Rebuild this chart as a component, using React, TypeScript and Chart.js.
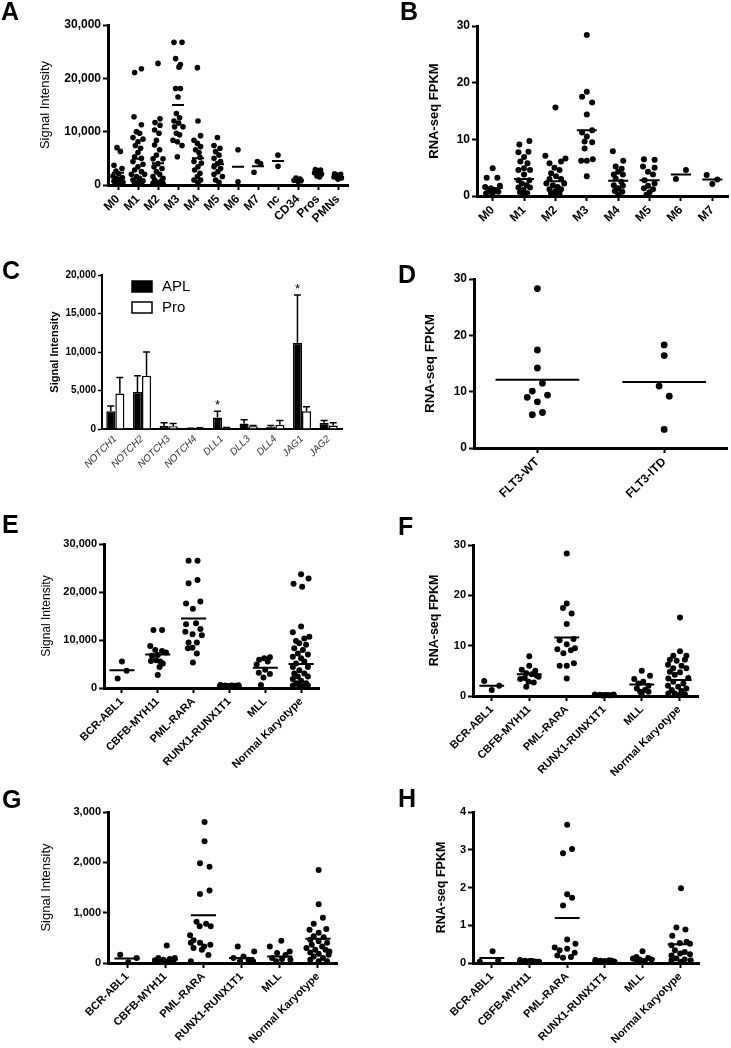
import React, { useEffect, useRef } from 'react';
import { Chart, registerables } from 'chart.js';
Chart.register(...registerables);

const FONT = '"Liberation Sans", Arial, Helvetica, sans-serif';

type Pt = [number, number]; // [value, horizontal jitter in category units]

// ---------- categories ----------
const fabCats = ['M0', 'M1', 'M2', 'M3', 'M4', 'M5', 'M6', 'M7', 'nc', 'CD34', 'Pros', 'PMNs'];
const fabCatsRna = ['M0', 'M1', 'M2', 'M3', 'M4', 'M5', 'M6', 'M7'];
const notchGenes = ['NOTCH1', 'NOTCH2', 'NOTCH3', 'NOTCH4', 'DLL1', 'DLL3', 'DLL4', 'JAG1', 'JAG2'];
const flt3Cats = ['FLT3-WT', 'FLT3-ITD'];
const karyoCats = ['BCR-ABL1', 'CBFB-MYH11', 'PML-RARA', 'RUNX1-RUNX1T1', 'MLL', 'Normal Karyotype'];

// ---------- tick labels ----------
const ticksSignal30k = [0, 10000, 20000, 30000];
const ticksFpkm30 = [0, 10, 20, 30];
const ticksSignal20k = [0, 5000, 10000, 15000, 20000];
const ticksSignal3k = [0, 1000, 2000, 3000];
const ticksFpkm4 = [0, 1, 2, 3, 4];

// ---------- Panel A: signal intensity by FAB ----------
const aM0: Pt[] = [[7000,-0.05],[6300,0.12],[3700,-0.2],[3100,0.2],[2600,-0.1],[2100,0.03],[1700,-0.25],[1400,0.22],[1200,-0.08],[1000,0.1],[700,-0.2],[500,0.25],[300,0],[200,-0.12]];
const aM1: Pt[] = [[21100,-0.17],[21800,0.17],[12800,-0.2],[11300,0.17],[10000,-0.08],[9700,0.08],[8900,-0.25],[8600,0.25],[8100,0],[7400,-0.13],[6900,0.13],[6100,0],[5300,-0.17],[5000,0.17],[4400,-0.25],[3900,0.25],[3400,0],[2800,-0.17],[2500,0.17],[2000,-0.33],[2000,0.33],[1600,-0.08],[1250,0.08],[940,-0.25],[800,0.25],[600,0],[300,-0.17],[300,0.17],[150,-0.05]];
const aM2: Pt[] = [[22800,0],[12400,0.1],[11700,-0.15],[11200,0.1],[10300,-0.17],[9700,0.05],[8400,-0.08],[7500,-0.17],[6600,0.08],[5600,-0.08],[4900,-0.25],[4900,0.25],[4000,0],[3400,-0.2],[3100,0.2],[2500,-0.08],[2000,0.08],[1600,-0.25],[1250,0.25],[940,-0.17],[750,0.17],[440,0],[300,-0.25],[300,0.25]];
const aM3: Pt[] = [[26750,-0.2],[26750,0.2],[23700,-0.12],[22600,0.12],[22100,0.05],[18100,-0.12],[18100,0.12],[16500,0],[13400,-0.08],[12600,0.08],[12000,-0.2],[11600,0.03],[10900,-0.17],[10900,0.25],[9700,-0.08],[9400,0.08],[8400,-0.25],[8100,-0.03],[7400,0.2],[5300,-0.03]];
const aM4: Pt[] = [[22000,-0.03],[12000,0],[9250,0.13],[8400,-0.2],[7800,-0.03],[7200,0.13],[6600,-0.12],[6100,0.05],[5200,0.1],[4400,-0.2],[4100,0.17],[3400,0],[2800,-0.17],[2200,0.1],[1600,-0.03],[940,-0.2],[940,0.13],[440,0]];
const aM5: Pt[] = [[8900,-0.03],[7400,-0.2],[6900,0.1],[6250,-0.12],[5600,0.05],[5000,-0.2],[4400,0.13],[4000,-0.03],[3400,-0.2],[3100,0.13],[2500,0],[2000,-0.2],[1600,0.22],[940,-0.12],[500,0.05]];
const aM6: Pt[] = [[6600,0],[600,0]];
const aM7: Pt[] = [[2400,-0.2],[4400,-0.03],[4000,0.13]];
const aNc: Pt[] = [[5600,0],[3500,0]];
const aCD34: Pt[] = [[1300,-0.1],[1100,0.1],[900,-0.2],[800,0.15],[700,0]];
const aPros: Pt[] = [[2900,-0.13],[2800,0.13],[2600,0],[2300,-0.17],[2000,0.17],[1700,-0.05],[1500,0.08]];
const aPMNs: Pt[] = [[2100,-0.17],[2000,0.13],[1800,0],[1500,-0.2],[1300,0.17],[1100,0]];
const aMeans = [2300, 4900, 4100, 15000, 5000, 3900, 3400, 3500, 4500, 900, 2200, 1500];

// ---------- Panel B: RNA-seq FPKM by FAB ----------
const bM0: Pt[] = [[4.9,0],[3.2,-0.19],[3.2,0.15],[1.6,-0.24],[1.8,0.23],[1.35,-0.06],[1.05,0.07],[0.75,-0.14],[0.5,0],[0.75,0.18],[0.45,-0.21]];
const bM1: Pt[] = [[9.1,-0.15],[9.7,0.17],[7.7,-0.18],[7.8,0.14],[6.9,0],[6.1,-0.12],[5.8,0.11],[4.9,0],[4.6,-0.18],[4.6,0.19],[3.8,0],[2.8,-0.18],[2.8,0.17],[2.2,-0.07],[1.9,0.08],[1.5,-0.18],[1.5,0.19],[1.05,-0.02],[0.65,-0.13],[0.5,0.1],[0.3,0]];
const bM2: Pt[] = [[15.6,0],[7.1,-0.32],[6.6,0.32],[5.8,-0.19],[6.1,0.18],[5.0,-0.03],[4.6,0.13],[4.0,-0.14],[3.5,0.02],[3.0,-0.19],[3.0,0.18],[2.2,-0.29],[2.2,0.28],[1.9,-0.08],[1.6,0.07],[1.2,-0.19],[1.2,0.18],[0.9,0],[0.5,-0.14],[0.5,0.13],[0.2,0]];
const bM3: Pt[] = [[28.4,0],[18.4,0],[17.5,-0.15],[16.5,0.17],[14.4,0],[11.6,0.17],[11.2,-0.15],[10.5,0],[9.6,-0.07],[9.5,0.17],[8.4,-0.07],[6.2,-0.18],[6.2,0],[6.5,0.19],[3.5,0]];
const bM4: Pt[] = [[7.9,-0.17],[6.2,0.16],[5.2,-0.08],[4.8,0.11],[4.3,0],[3.8,-0.14],[3.8,0.15],[3.1,-0.08],[2.5,0.1],[1.9,-0.14],[1.8,0.15],[1.35,0],[0.9,-0.11],[0.75,0.13],[0.3,0]];
const bM5: Pt[] = [[6.5,-0.18],[6.4,0.16],[5.2,-0.21],[5.0,0.16],[4.3,-0.05],[3.8,0.11],[2.8,-0.16],[2.2,0.16],[1.8,-0.05],[1.35,-0.18],[1.2,0.11],[0.65,0],[0.2,-0.1]];
const bM6: Pt[] = [[4.6,0.16],[3.0,-0.16]];
const bM7: Pt[] = [[3.7,-0.18],[2.9,0.16],[2.1,0]];
const bMeans = [1.4, 3.0, 2.6, 11.6, 2.7, 2.8, 3.8, 2.9];

// ---------- Panel C: Notch pathway, APL vs promyelocytes ----------
const aplMean = [2300, 4800, 400, 50, 1500, 700, 300, 11200, 800];
const aplErrTop = [3000, 6900, 800, 90, 2300, 1200, 450, 17400, 1100];
const proMean = [4600, 6900, 350, 100, 150, 350, 550, 2300, 450];
const proErrTop = [6700, 10000, 700, 150, 200, 450, 1100, 2900, 800];
const starGenes = ['DLL1', 'JAG1'];

// ---------- Panel D: FLT3 status ----------
const dWT: Pt[] = [[28.3,0],[17.4,0],[14.2,0],[11.5,0.04],[10.1,-0.04],[9.0,-0.08],[9.4,0.08],[8.2,0],[6.3,0.04],[5.9,-0.04]];
const dITD: Pt[] = [[18.3,0],[16.4,0],[11.0,-0.04],[9.2,0.04],[3.3,0]];
const dMeans = [12.1, 11.7];

// ---------- Panel E: signal intensity by karyotype ----------
const eBCR: Pt[] = [[5500,0],[3600,0.13],[2000,-0.12]];
const eCBFB: Pt[] = [[12100,-0.12],[12100,0.12],[8750,-0.21],[7900,-0.07],[7700,0.12],[7400,0.23],[6700,-0.16],[6900,0],[5800,-0.05],[5500,0.07],[5100,0.14],[5600,-0.19],[4400,0.05],[2700,0]];
const ePML: Pt[] = [[26500,-0.14],[26500,0.11],[21800,-0.14],[22500,0.11],[17600,-0.21],[18000,0.19],[16500,-0.02],[13300,-0.21],[13500,0.07],[12300,0.19],[11700,-0.23],[11200,-0.03],[11000,0.23],[9500,-0.14],[9500,0.09],[8300,-0.16],[8400,-0.03],[7200,0.09],[5300,-0.02]];
const eRUNX1: Pt[] = [[600,-0.25],[500,-0.12],[400,0],[450,0.12],[550,0.25],[350,-0.06],[500,0.06],[400,0.18]];
const eMLL: Pt[] = [[6400,0.13],[6200,-0.03],[5900,-0.17],[5500,0.07],[4900,-0.24],[3800,0],[3200,-0.18],[2900,0.13],[2200,-0.05],[600,-0.12]];
const eNormal: Pt[] = [[23700,0],[22800,0.21],[21700,-0.21],[21100,0.03],[12800,0],[11600,-0.23],[10700,0.23],[10300,0.09],[9800,-0.14],[9300,-0.05],[9000,0.14],[8300,-0.19],[7900,0.05],[7200,-0.09],[7000,0.19],[6500,-0.23],[6200,0],[5500,0.09],[5100,-0.14],[4400,-0.23],[4400,0.19],[3700,-0.05],[3000,-0.19],[3000,0.09],[2400,-0.09],[2400,0.19],[1900,-0.23],[1500,0],[1000,-0.14],[1000,0.14],[500,-0.05],[500,-0.23],[500,0.19],[300,0.05]];
const eMeans = [3700, 7000, 14500, 450, 4200, 5000];

// ---------- Panel F: RNA-seq FPKM by karyotype ----------
const fBCR: Pt[] = [[3.0,-0.2],[2.05,0.2],[1.2,0]];
const fCBFB: Pt[] = [[7.9,0],[6.0,0],[5.2,-0.2],[5.0,0.16],[4.5,-0.08],[4.3,0.07],[3.4,-0.24],[3.8,0.25],[2.85,-0.02],[2.7,0.12],[1.85,-0.08],[4.0,0.2],[3.6,-0.12]];
const fPML: Pt[] = [[28.3,0],[18.4,0],[17.5,-0.1],[16.4,0.13],[14.3,0],[11.1,-0.19],[11.3,0.18],[10.3,0],[9.3,-0.25],[9.5,0.22],[8.5,-0.09],[9.1,0.11],[6.0,-0.19],[6.0,0],[6.5,0.19],[3.5,0]];
const fRUNX1: Pt[] = [[0.3,-0.25],[0.25,-0.12],[0.2,0],[0.15,0.12],[0.3,0.25],[0.1,-0.06],[0.2,0.06],[0.15,0.18]];
const fMLL: Pt[] = [[5.0,0],[4.0,0.22],[3.4,-0.2],[2.85,0.04],[2.5,-0.09],[2.05,0.18],[1.5,-0.13],[1.2,0.09],[0.85,-0.04],[0.85,0.18],[0.3,0]];
const fNormal: Pt[] = [[15.6,0.02],[8.9,0.02],[8.0,-0.16],[8.0,0.19],[7.2,-0.25],[7.0,-0.07],[7.2,0.15],[6.2,-0.3],[6.0,0.06],[5.5,-0.16],[5.5,0.19],[4.8,-0.25],[4.7,0.02],[4.2,-0.12],[3.5,-0.29],[3.6,0.24],[2.85,-0.16],[2.5,0.11],[2.05,-0.3],[1.85,-0.03],[1.5,0.19],[1.2,-0.2],[1.0,0.06],[0.5,-0.12],[0.33,0.15],[0.5,-0.29],[0.2,0]];
const fMeans = [2.05, 4.3, 11.6, 0.2, 2.3, 3.2];

// ---------- Panel G: signal intensity (second probe) by karyotype ----------
const gBCR: Pt[] = [[165,-0.18],[100,0.25],[13,0.03]];
const gCBFB: Pt[] = [[350,0.04],[100,-0.18],[66,-0.05],[80,0.12],[33,0.21],[33,-0.14],[13,0.04],[53,-0.27],[100,0.25]];
const gPML: Pt[] = [[2800,0.03],[2420,0.03],[1980,-0.09],[1910,0.16],[1440,0.16],[1370,-0.09],[820,-0.18],[780,0.07],[730,0.19],[730,-0.1],[550,-0.35],[450,-0.26],[400,-0.09],[400,-0.33],[365,0.18],[330,0.02],[300,-0.26],[265,-0.04],[160,0.13],[33,-0.33]];
const gRUNX1: Pt[] = [[330,-0.1],[230,0.33],[130,0.05],[100,-0.21],[66,0.18],[33,-0.04],[33,0.3]];
const gMLL: Pt[] = [[330,-0.26],[440,0.04],[230,0.26],[200,-0.07],[160,0.15],[100,-0.2],[80,0.06],[66,0.28],[33,-0.09]];
const gNormal: Pt[] = [[1850,0.02],[1165,0.02],[900,0.13],[780,-0.11],[675,0.22],[660,-0.22],[600,0.02],[530,-0.11],[510,0.15],[460,-0.2],[430,0.02],[400,0.24],[365,-0.16],[330,0.11],[300,-0.3],[265,-0.07],[265,0.2],[230,0.3],[210,-0.2],[185,0.02],[165,0.28],[130,-0.11],[100,0.13],[66,-0.2],[33,0.02],[33,0.24]];
const gMeans = [90, 70, 950, 100, 130, 480];

// ---------- Panel H: RNA-seq FPKM (second) by karyotype ----------
const hBCR: Pt[] = [[0.31,0.02],[0.03,-0.32],[0.07,0.17]];
const hCBFB: Pt[] = [[0.08,-0.25],[0.06,-0.12],[0.05,0],[0.04,0.12],[0.03,0.25],[0.02,-0.06],[0.05,0.06],[0.03,0.18]];
const hPML: Pt[] = [[3.66,0],[3.02,0.13],[2.91,-0.11],[1.82,0],[1.73,0.13],[1.52,-0.11],[0.62,0],[0.51,0.22],[0.41,-0.33],[0.34,-0.2],[0.38,0],[0.27,0.2],[0.2,-0.26],[0.14,-0.11],[0.16,0.1]];
const hRUNX1: Pt[] = [[0.08,-0.25],[0.06,-0.12],[0.05,0],[0.07,0.12],[0.04,0.25],[0.03,-0.06],[0.06,0.18]];
const hMLL: Pt[] = [[0.31,0],[0.16,-0.16],[0.13,0.15],[0.12,-0.25],[0.09,-0.07],[0.09,0.24],[0.05,0.06],[0.03,-0.16]];
const hNormal: Pt[] = [[1.98,0.02],[0.94,-0.1],[0.89,0.14],[0.72,-0.21],[0.47,-0.23],[0.53,-0.01],[0.56,0.17],[0.51,0.26],[0.34,-0.14],[0.29,0.12],[0.2,-0.23],[0.25,0],[0.23,0.26],[0.12,-0.1],[0.09,0.12],[0.07,-0.23],[0.07,0.28],[0.03,0.02]];
const hMeans = [0.13, 0.04, 1.19, 0.05, 0.1, 0.5];

// ---------- layout helpers ----------
interface ScatterSpec {
  key: string;
  x: number; y: number; w: number; h: number;
  area: [number, number, number, number]; // left, top, right, bottom (canvas px)
  cats: string[];
  groups: Pt[][];
  means: number[];
  yTicks: number[];
  yTitle: string;
  titleBold: boolean;
  titleSize: number;
  titleCX: number;
  tickSize: number;
  xLabelSize: number;
  r: number;
  half: number;
}

const fmt = (v: number) => Number(v).toLocaleString('en-US');

const axisCommon = {
  grid: { display: true, drawOnChartArea: false, drawTicks: true, tickLength: 5, tickWidth: 2, tickColor: '#000' },
  border: { display: true, color: '#000', width: 3 },
};

function scatterConfig(s: ScatterSpec): any {
  const [l, t, r, b] = s.area;
  const n = s.cats.length;
  const pts = s.groups.flatMap((g, i) => g.map(([v, o]) => ({ x: i + o, y: v })));
  const lines: any[] = s.means.flatMap((m, i) => [
    { x: i - s.half, y: m },
    { x: i + s.half, y: m },
    { x: i + 0.5, y: null },
  ]);
  const lh = 1.2;
  return {
    type: 'scatter',
    data: {
      datasets: [
        { type: 'line', data: lines, borderColor: '#000', borderWidth: 2, pointRadius: 0, spanGaps: false, clip: false, order: 0 },
        { data: pts, pointRadius: s.r, pointHoverRadius: s.r, backgroundColor: '#000', borderWidth: 0, clip: false, order: 1 },
      ],
    },
    options: {
      animation: false,
      responsive: false,
      events: [],
      layout: { padding: { left: 0, top: t, right: s.w - r, bottom: 0 } },
      plugins: { legend: { display: false }, tooltip: { enabled: false } },
      scales: {
        x: {
          type: 'linear',
          min: -0.5,
          max: n - 0.5,
          afterBuildTicks: (sc: any) => { sc.ticks = s.cats.map((_, i) => ({ value: i })); },
          afterFit: (sc: any) => { sc.height = s.h - b; },
          ticks: {
            autoSkip: false, minRotation: 45, maxRotation: 45, padding: 2, color: '#000',
            font: { family: FONT, size: s.xLabelSize, weight: 'bold' },
            callback: (v: number) => s.cats[Math.round(v)] ?? '',
          },
          ...axisCommon,
        },
        y: {
          type: 'linear',
          min: s.yTicks[0],
          max: s.yTicks[s.yTicks.length - 1],
          afterBuildTicks: (sc: any) => { sc.ticks = s.yTicks.map((v) => ({ value: v })); },
          afterFit: (sc: any) => { sc.width = l; },
          ticks: { padding: 2, color: '#000', font: { family: FONT, size: s.tickSize, weight: 'bold' }, callback: (v: number) => fmt(v) },
          title: {
            display: true, text: s.yTitle, color: '#000',
            font: { family: FONT, size: s.titleSize, weight: s.titleBold ? 'bold' : 'normal', lineHeight: lh },
            padding: { top: s.titleCX - (s.titleSize * lh) / 2, bottom: 0 },
          },
          ...axisCommon,
        },
      },
    },
  };
}

// Panel C geometry
const C = { x: 0, y: 250, w: 365, h: 240, area: [102, 25, 342, 179] as [number, number, number, number] };

const errorBarPlugin = {
  id: 'errorBars',
  afterDatasetsDraw(chart: any) {
    const ctx = chart.ctx;
    const ys = chart.scales.y;
    const tops = [aplErrTop, proErrTop];
    ctx.save();
    ctx.strokeStyle = '#000';
    ctx.lineWidth = 1.5;
    tops.forEach((arr, d) => {
      const meta = chart.getDatasetMeta(d);
      meta.data.forEach((bar: any, i: number) => {
        const yt = ys.getPixelForValue(arr[i]);
        ctx.beginPath();
        ctx.moveTo(bar.x, bar.y);
        ctx.lineTo(bar.x, yt);
        ctx.moveTo(bar.x - 3.5, yt);
        ctx.lineTo(bar.x + 3.5, yt);
        ctx.stroke();
      });
    });
    // significance marks
    ctx.fillStyle = '#000';
    ctx.font = `13px ${FONT}`;
    ctx.textAlign = 'center';
    ctx.textBaseline = 'alphabetic';
    const meta0 = chart.getDatasetMeta(0);
    starGenes.forEach((g) => {
      const i = notchGenes.indexOf(g);
      const bar = meta0.data[i];
      ctx.fillText('*', bar.x, ys.getPixelForValue(aplErrTop[i]) - 2);
    });
    // legend
    const items = [
      { label: 'APL', fill: '#000', y: 31 },
      { label: 'Pro', fill: '#fff', y: 52 },
    ];
    ctx.font = `15px ${FONT}`;
    ctx.textAlign = 'left';
    ctx.textBaseline = 'middle';
    items.forEach((it) => {
      ctx.fillStyle = it.fill;
      ctx.fillRect(132, it.y, 20, 11);
      ctx.strokeStyle = '#000';
      ctx.lineWidth = 1.5;
      ctx.strokeRect(132, it.y, 20, 11);
      ctx.fillStyle = '#000';
      ctx.fillText(it.label, 162, it.y + 6);
    });
    ctx.restore();
  },
};

function barConfig(): any {
  const [l, t, r, b] = C.area;
  return {
    type: 'bar',
    data: {
      labels: notchGenes,
      datasets: [
        { label: 'APL', data: aplMean, backgroundColor: '#000', borderColor: '#000', borderWidth: 1.5 },
        { label: 'Pro', data: proMean, backgroundColor: '#fff', borderColor: '#000', borderWidth: 1.5 },
      ],
    },
    options: {
      animation: false,
      responsive: false,
      events: [],
      categoryPercentage: 0.68,
      barPercentage: 1,
      layout: { padding: { left: 0, top: t, right: C.w - r, bottom: 0 } },
      plugins: { legend: { display: false }, tooltip: { enabled: false } },
      scales: {
        x: {
          type: 'category',
          afterFit: (sc: any) => { sc.height = C.h - b; },
          grid: { display: false, drawTicks: false },
          border: { display: true, color: '#000', width: 2 },
          ticks: {
            autoSkip: false, minRotation: 45, maxRotation: 45, padding: 4, color: '#333',
            font: { family: FONT, size: 10, style: 'italic' },
          },
        },
        y: {
          min: 0,
          max: 20000,
          afterBuildTicks: (sc: any) => { sc.ticks = ticksSignal20k.map((v) => ({ value: v })); },
          afterFit: (sc: any) => { sc.width = l; },
          grid: { display: true, drawOnChartArea: false, drawTicks: true, tickLength: 4, tickWidth: 1.5, tickColor: '#000' },
          border: { display: true, color: '#000', width: 2 },
          ticks: { padding: 2, color: '#000', font: { family: FONT, size: 10, weight: 'bold' }, callback: (v: number) => fmt(v) },
          title: {
            display: true, text: 'Signal Intensity', color: '#000',
            font: { family: FONT, size: 11, weight: 'bold', lineHeight: 1.2 },
            padding: { top: 55 - 6.6, bottom: 0 },
          },
        },
      },
    },
    plugins: [errorBarPlugin],
  };
}

const scatterSpecs: ScatterSpec[] = [
  {
    key: 'A', x: 0, y: 0, w: 365, h: 250, area: [108, 25, 348, 185],
    cats: fabCats, groups: [aM0, aM1, aM2, aM3, aM4, aM5, aM6, aM7, aNc, aCD34, aPros, aPMNs], means: aMeans,
    yTicks: ticksSignal30k, yTitle: 'Signal Intensity', titleBold: false, titleSize: 13, titleCX: 45,
    tickSize: 12, xLabelSize: 12, r: 2.8, half: 0.3,
  },
  {
    key: 'B', x: 365, y: 0, w: 366, h: 250, area: [112, 26, 364, 196],
    cats: fabCatsRna, groups: [bM0, bM1, bM2, bM3, bM4, bM5, bM6, bM7], means: bMeans,
    yTicks: ticksFpkm30, yTitle: 'RNA-seq FPKM', titleBold: true, titleSize: 13, titleCX: 69,
    tickSize: 12, xLabelSize: 12, r: 3, half: 0.32,
  },
  {
    key: 'D', x: 365, y: 250, w: 366, h: 262, area: [109, 29, 364, 198],
    cats: flt3Cats, groups: [dWT, dITD], means: dMeans,
    yTicks: ticksFpkm30, yTitle: 'RNA-seq FPKM', titleBold: true, titleSize: 13.5, titleCX: 65,
    tickSize: 12, xLabelSize: 12, r: 3.4, half: 0.33,
  },
  {
    key: 'E', x: 0, y: 490, w: 365, h: 280, area: [104, 54, 319, 198],
    cats: karyoCats, groups: [eBCR, eCBFB, ePML, eRUNX1, eMLL, eNormal], means: eMeans,
    yTicks: ticksSignal30k, yTitle: 'Signal Intensity', titleBold: false, titleSize: 12, titleCX: 47,
    tickSize: 11, xLabelSize: 11, r: 3, half: 0.35,
  },
  {
    key: 'F', x: 365, y: 490, w: 366, h: 295, area: [108, 55, 333, 206],
    cats: karyoCats, groups: [fBCR, fCBFB, fPML, fRUNX1, fMLL, fNormal], means: fMeans,
    yTicks: ticksFpkm30, yTitle: 'RNA-seq FPKM', titleBold: true, titleSize: 12.5, titleCX: 70,
    tickSize: 11, xLabelSize: 11, r: 3, half: 0.33,
  },
  {
    key: 'G', x: 0, y: 770, w: 365, h: 278, area: [108, 42, 337, 193],
    cats: karyoCats, groups: [gBCR, gCBFB, gPML, gRUNX1, gMLL, gNormal], means: gMeans,
    yTicks: ticksSignal3k, yTitle: 'Signal Intensity', titleBold: false, titleSize: 13, titleCX: 46,
    tickSize: 11, xLabelSize: 11, r: 3, half: 0.33,
  },
  {
    key: 'H', x: 365, y: 770, w: 366, h: 278, area: [108, 42, 334, 193],
    cats: karyoCats, groups: [hBCR, hCBFB, hPML, hRUNX1, hMLL, hNormal], means: hMeans,
    yTicks: ticksFpkm4, yTitle: 'RNA-seq FPKM', titleBold: true, titleSize: 12.5, titleCX: 77,
    tickSize: 11, xLabelSize: 11, r: 3, half: 0.33,
  },
];

const panelLetters: { t: string; x: number; y: number }[] = [
  { t: 'A', x: 1, y: 2 },
  { t: 'B', x: 400, y: 2 },
  { t: 'C', x: 2, y: 261 },
  { t: 'D', x: 398, y: 265 },
  { t: 'E', x: 2, y: 515 },
  { t: 'F', x: 398, y: 517 },
  { t: 'G', x: 2, y: 790 },
  { t: 'H', x: 398, y: 789 },
];

function ChartCanvas(props: { x: number; y: number; w: number; h: number; build: () => any }) {
  const ref = useRef<HTMLCanvasElement>(null);
  useEffect(() => {
    const chart = new Chart(ref.current as HTMLCanvasElement, props.build());
    return () => chart.destroy();
  }, []);
  return (
    <canvas
      ref={ref}
      width={props.w}
      height={props.h}
      style={{ position: 'absolute', left: props.x, top: props.y, width: props.w, height: props.h }}
    />
  );
}

export default function App() {
  return (
    <div style={{ position: 'absolute', left: 0, top: 0, width: 731, height: 1048, background: '#fff', overflow: 'hidden' }}>
      {scatterSpecs.map((s) => (
        <ChartCanvas key={s.key} x={s.x} y={s.y} w={s.w} h={s.h} build={() => scatterConfig(s)} />
      ))}
      <ChartCanvas x={C.x} y={C.y} w={C.w} h={C.h} build={barConfig} />
      {panelLetters.map((p) => (
        <div
          key={p.t}
          style={{
            position: 'absolute', left: p.x, top: p.y - 3, fontFamily: FONT, fontWeight: 'bold',
            fontSize: 25, lineHeight: '25px', color: '#000',
          }}
        >
          {p.t}
        </div>
      ))}
    </div>
  );
}
